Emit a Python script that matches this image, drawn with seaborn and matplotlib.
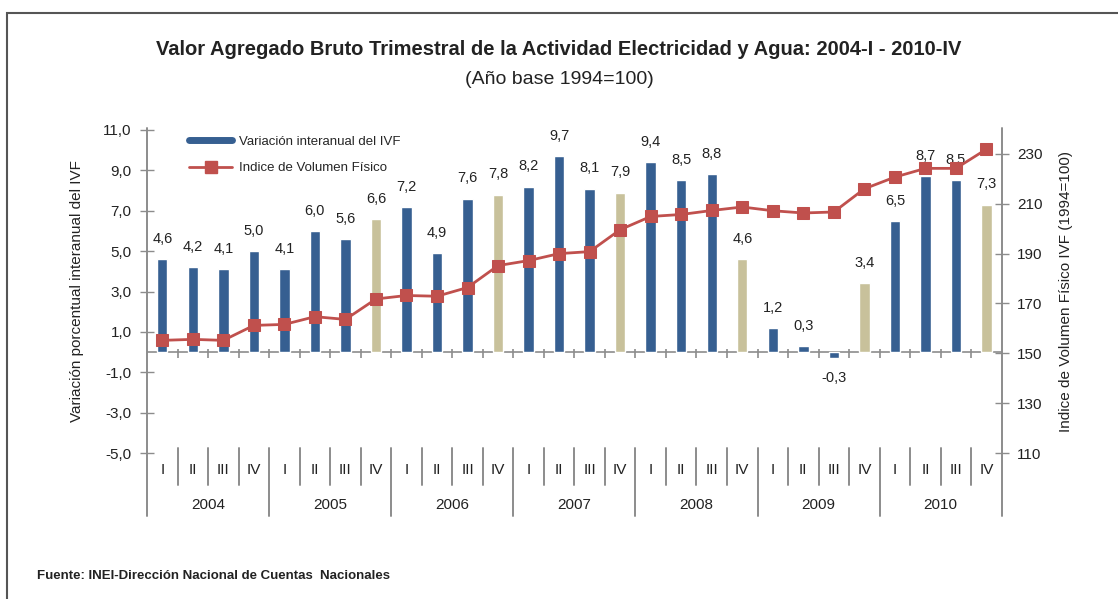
import numpy as np
import pandas as pd
import matplotlib.pyplot as plt
import matplotlib.transforms as mtransforms
from matplotlib.lines import Line2D
from matplotlib.patches import Rectangle
import seaborn as sns

# --- données ---
years = ["2004", "2005", "2006", "2007", "2008", "2009", "2010"]
quarters = ["I", "II", "III", "IV"]
var_ivf = [4.6, 4.2, 4.1, 5.0, 4.1, 6.0, 5.6, 6.6, 7.2, 4.9, 7.6, 7.8, 8.2, 9.7,
           8.1, 7.9, 9.4, 8.5, 8.8, 4.6, 1.2, 0.3, -0.3, 3.4, 6.5, 8.7, 8.5, 7.3]
indice_ivf = [155.2, 155.6, 155.2, 161.2, 161.6, 164.7, 163.6, 171.8, 173.2, 172.9,
              176.4, 185.2, 187.2, 190.0, 190.8, 199.6, 204.9, 205.7, 207.3, 208.7,
              207.2, 206.3, 206.7, 216.0, 220.7, 224.2, 224.2, 231.9]
bar_type = ["azul", "azul", "azul", "azul",
            "azul", "azul", "azul", "beige",
            "azul", "azul", "azul", "beige",
            "azul", "azul", "azul", "beige",
            "azul", "azul", "azul", "beige",
            "azul", "azul", "azul", "beige",
            "azul", "azul", "azul", "beige"]

BLUE = "#365F91"
BEIGE = "#C8C19B"
RED = "#C0504D"
GRAY = "#8C8C8C"
TXT = "#222222"

sns.set_theme(style="white")
plt.rcParams["font.family"] = ["Liberation Sans Narrow", "Liberation Sans", "DejaVu Sans"]

labels_x = [f"{y}-{q}" for y in years for q in quarters]
df = pd.DataFrame({"periodo": labels_x, "var": var_ivf, "tipo": bar_type,
                   "pos": np.arange(len(labels_x)), "ivf": indice_ivf})

fig = plt.figure(figsize=(11.18, 5.99), dpi=100)
ax = fig.add_axes([0.1315, 0.2437, 0.7645, 0.5393])

sns.barplot(data=df, x="periodo", y="var", hue="tipo",
            palette={"azul": BLUE, "beige": BEIGE}, dodge=False, saturation=1,
            width=0.34, legend=False, ax=ax, zorder=2)
n = len(df)
ax.set_xlim(-0.5, n - 0.5)
ax.set_ylim(-5, 11)
ax.set_yticks(np.arange(-5, 12, 2))
ax.set_yticklabels([f"{v:.1f}".replace(".", ",") for v in np.arange(-5, 12, 2)],
                   fontsize=11, color=TXT)
ax.tick_params(axis="y", direction="inout", length=10, color=GRAY, width=1, pad=6)
ax.set_xticks([])
ax.set_xlabel("")
ax.set_ylabel("Variación porcentual interanual del IVF", fontsize=11, color=TXT, labelpad=14)
for s in ax.spines.values():
    s.set_visible(False)

# ligne du zéro + petites graduations
ax.axhline(0, color=GRAY, lw=1.2, zorder=1)
bounds = np.arange(0.5, n - 1, 1.0)
ax.vlines(bounds, -0.3, 0.15, color=GRAY, lw=1.2)

# étiquettes de valeurs
for i, v in enumerate(df["var"]):
    off = 1.0 if v >= 0 else -1.0
    ax.text(i, v + off, f"{v:.1f}".replace(".", ","), ha="center", va="center",
            fontsize=10.5, color=TXT)

# axe x en deux niveaux
trans = mtransforms.blended_transform_factory(ax.transData, ax.transAxes)
for x in [-0.5, n - 0.5]:
    ax.plot([x, x], [-0.195, 1.005], transform=trans, color=GRAY, lw=1.4, clip_on=False)
for b in bounds:
    long_sep = (b + 0.5) % 4 == 0
    ax.plot([b, b], [-0.195 if long_sep else -0.099, 0.015], transform=trans,
            color=GRAY, lw=1.4, clip_on=False)
for i, lab in enumerate(labels_x):
    ax.text(i, -0.053, lab.split("-")[1], transform=trans, ha="center", va="center",
            fontsize=11, color=TXT)
for k, y in enumerate(years):
    ax.text(4 * k + 1.5, -0.162, y, transform=trans, ha="center", va="center",
            fontsize=11, color=TXT)

# axe secondaire : indice
ax2 = ax.twinx()
sns.lineplot(data=df, x="pos", y="ivf", color=RED, lw=2, marker="s", markersize=8,
             markeredgecolor=RED, ax=ax2, zorder=3)
ax2.set_xlim(-0.5, n - 0.5)
ax2.set_ylim(110.4, 239.6)
ax2.set_yticks(np.arange(110, 231, 20))
ax2.set_yticklabels([str(v) for v in np.arange(110, 231, 20)], fontsize=11, color=TXT)
ax2.tick_params(axis="y", direction="inout", length=10, color=GRAY, width=1, pad=6)
ax2.set_xlabel("")
ax2.set_ylabel("Indice de Volumen Físico IVF (1994=100)", fontsize=11, color=TXT, labelpad=12)
for s in ax2.spines.values():
    s.set_visible(False)

handles = [Line2D([0], [0], color=BLUE, lw=5),
           Line2D([0], [0], color=RED, lw=2, marker="s", markersize=8)]
ax2.legend(handles, ["Variación interanual del IVF", "Indice de Volumen Físico"],
           loc="upper left", bbox_to_anchor=(0.035, 1.02), frameon=False,
           fontsize=9.5, handlelength=3.3, labelspacing=1.1, handletextpad=0.5)

fig.text(0.5, 0.917, "Valor Agregado Bruto Trimestral de la Actividad Electricidad y Agua: 2004-I - 2010-IV",
         ha="center", va="center", fontsize=14.5, fontweight="bold", color=TXT)
fig.text(0.5, 0.868, "(Año base 1994=100)", ha="center", va="center", fontsize=14, color=TXT)
fig.text(0.033, 0.038, "Fuente: INEI-Dirección Nacional de Cuentas  Nacionales",
         ha="left", va="center", fontsize=9.5, fontweight="bold", color=TXT)

fig.patches.append(Rectangle((0.0063, -0.1), 1.2, 1.078, transform=fig.transFigure,
                             fill=False, edgecolor="#555555", lw=1.5))

fig.savefig("out.png", dpi=100, facecolor="white")
